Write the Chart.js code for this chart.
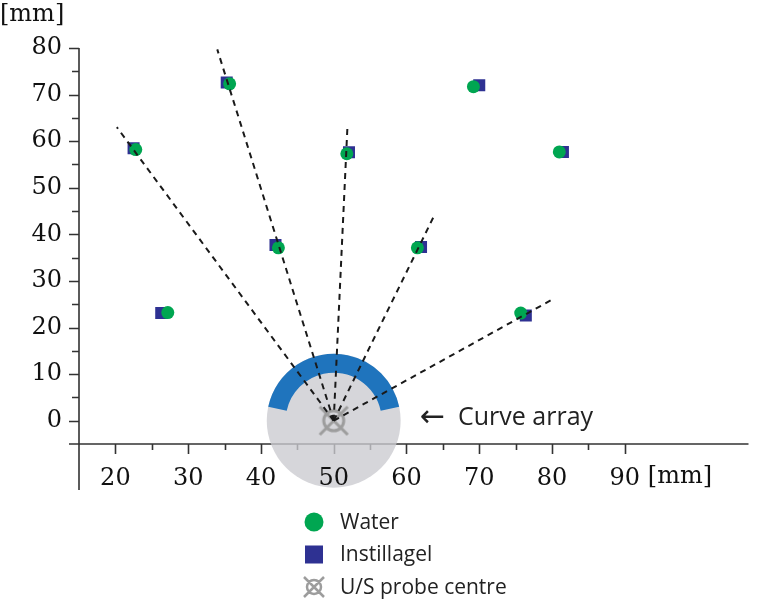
<!DOCTYPE html>
<html>
<head>
<meta charset="utf-8">
<script src="https://cdn.jsdelivr.net/npm/chart.js@4.4.0/dist/chart.umd.min.js"></script>
<style>
    html, body { margin: 0; padding: 0; background: #fff; }
</style>
</head>
<body>
<canvas id="grafico" width="757" height="600"></canvas>
<script>
// valores [x mm, y mm]
const water = [
    [35.7, 72.3], [22.8, 58.2], [42.4, 37.1], [51.8, 57.3], [27.2, 23.2],
    [61.5, 37.1], [69.2, 71.7], [81.0, 57.7], [75.7, 23.1]
];
const instillagel = [
    [35.3, 72.6], [22.5, 58.5], [42.0, 37.7], [52.1, 57.6], [26.3, 23.1],
    [62.0, 37.3], [70.0, 72.0], [81.5, 57.7], [76.4, 22.6]
];
const probeCentre = [50, 0];
const rayEnds = [[20.2, 63.0], [34.0, 79.7], [51.9, 63.5], [63.8, 44.0], [79.9, 25.9]];

const xTicks = [20, 30, 40, 50, 60, 70, 80, 90];
const xMinorTicks = [25, 35, 45, 55, 65, 75, 85];
const yTicks = [0, 10, 20, 30, 40, 50, 60, 70, 80];
const yMinorTicks = [5, 15, 25, 35, 45, 55, 65, 75];

const serif = '"DejaVu Serif", "Liberation Serif", serif';
const sans = '"Open Sans", "DejaVu Sans", sans-serif';
const cinzaSimbolo = '#9d9d9d';

function paraPontos(lista) {
    return lista.map(([x, y]) => ({ x, y }));
}

function desenhaSimbolo(ctx, x, y, raio, braco, largura) {
    ctx.save();
    ctx.strokeStyle = cinzaSimbolo;
    ctx.lineWidth = largura;
    ctx.beginPath();
    ctx.arc(x, y, raio, 0, Math.PI * 2);
    ctx.moveTo(x - braco, y - braco);
    ctx.lineTo(x + braco, y + braco);
    ctx.moveTo(x + braco, y - braco);
    ctx.lineTo(x - braco, y + braco);
    ctx.stroke();
    ctx.restore();
}

// simbolo do centro da sonda como imagem para o pointStyle
const imagemSonda = document.createElement('canvas');
imagemSonda.width = 34;
imagemSonda.height = 34;
desenhaSimbolo(imagemSonda.getContext('2d'), 17, 17, 10, 14, 3);

const raios = rayEnds.map(([x, y]) => ({
    type: 'scatter',
    data: paraPontos([probeCentre, [x, y]]),
    showLine: true,
    borderColor: '#1a1a1a',
    borderWidth: 2,
    borderDash: [6, 5],
    pointRadius: 0,
    order: 0
}));

const fundo = {
    id: 'fundo',
    beforeDraw(chart) {
        const { ctx, scales: { x, y } } = chart;
        const x0 = x.left;
        const y0 = y.bottom;
        ctx.save();
        ctx.strokeStyle = '#333';
        ctx.lineWidth = 1.6;
        ctx.beginPath();
        ctx.moveTo(x0, y.top);
        ctx.lineTo(x0, y0 + 46);
        ctx.moveTo(x0 - 10, y0);
        ctx.lineTo(x.right, y0);
        yTicks.forEach(v => {
            const p = Math.round(y.getPixelForValue(v)) + 0.5;
            ctx.moveTo(x0 - 10, p);
            ctx.lineTo(x0, p);
        });
        yMinorTicks.forEach(v => {
            const p = Math.round(y.getPixelForValue(v)) + 0.5;
            ctx.moveTo(x0 - 7, p);
            ctx.lineTo(x0, p);
        });
        xTicks.forEach(v => {
            const p = Math.round(x.getPixelForValue(v)) + 0.5;
            ctx.moveTo(p, y0);
            ctx.lineTo(p, y0 + 10);
        });
        xMinorTicks.forEach(v => {
            const p = Math.round(x.getPixelForValue(v)) + 0.5;
            ctx.moveTo(p, y0);
            ctx.lineTo(p, y0 + 6);
        });
        ctx.stroke();

        // disco da sonda e arco curvo
        const cx = x.getPixelForValue(probeCentre[0]);
        const cy = y.getPixelForValue(probeCentre[1]);
        const r = x.getPixelForValue(probeCentre[0] + 9.2) - cx;
        const rInterno = x.getPixelForValue(probeCentre[0] + 6.6) - cx;
        ctx.fillStyle = 'rgba(203, 203, 207, 0.78)';
        ctx.beginPath();
        ctx.arc(cx, cy, r, 0, Math.PI * 2);
        ctx.fill();
        const a = 12 * Math.PI / 180;
        ctx.fillStyle = '#1f74bd';
        ctx.beginPath();
        ctx.arc(cx, cy, r, Math.PI + a, Math.PI * 2 - a);
        ctx.arc(cx, cy, rInterno, Math.PI * 2 - a, Math.PI + a, true);
        ctx.closePath();
        ctx.fill();
        ctx.restore();
    },
    afterDraw(chart) {
        const { ctx, scales: { x, y } } = chart;
        ctx.save();
        ctx.fillStyle = '#111';
        ctx.font = '24px ' + serif;
        ctx.textBaseline = 'alphabetic';
        ctx.textAlign = 'left';
        ctx.fillText('[mm]', 0, 21);
        ctx.fillText('[mm]', x.getPixelForValue(90) + 23, y.bottom + 39);

        ctx.fillStyle = '#222';
        const yArray = y.getPixelForValue(probeCentre[1]) + 4;
        ctx.font = '30px "DejaVu Sans", sans-serif';
        ctx.fillText('←', 420, yArray + 1);
        ctx.font = '25px ' + sans;
        ctx.fillText('Curve array', 458, yArray);

        // legenda
        const itens = chart.data.datasets.filter(d => d.legenda);
        ctx.font = '21px ' + sans;
        ctx.textBaseline = 'middle';
        itens.forEach((d, i) => {
            const ly = 522 + i * 32.5;
            const lx = 314;
            if (d.pointStyle === 'circle') {
                ctx.fillStyle = d.backgroundColor;
                ctx.beginPath();
                ctx.arc(lx, ly, 9.5, 0, Math.PI * 2);
                ctx.fill();
            } else if (d.pointStyle === 'rect') {
                ctx.fillStyle = d.backgroundColor;
                ctx.fillRect(lx - 9, ly - 9, 18, 18);
            } else {
                desenhaSimbolo(ctx, lx, ly, 7, 10, 2.5);
            }
            ctx.fillStyle = '#222';
            ctx.fillText(d.label, 340, ly + 1);
        });
        ctx.restore();
    }
};

const ctx = document.getElementById('grafico');

new Chart(ctx, {
    type: 'scatter',
    data: {
        datasets: [
            ...raios,
            {
                label: 'Water',
                legenda: true,
                data: paraPontos(water),
                pointStyle: 'circle',
                pointRadius: 6.5,
                backgroundColor: '#00a651',
                borderWidth: 0,
                order: 1
            },
            {
                label: 'Instillagel',
                legenda: true,
                data: paraPontos(instillagel),
                pointStyle: 'rect',
                pointRadius: 8.5,
                backgroundColor: '#2e3192',
                borderWidth: 0,
                order: 2
            },
            {
                label: 'U/S probe centre',
                legenda: true,
                data: paraPontos([probeCentre]),
                pointStyle: imagemSonda,
                order: 3
            }
        ]
    },
    options: {
        responsive: false,
        animation: false,
        layout: { padding: { top: 48, left: 0, right: 0, bottom: 0 } },
        plugins: {
            legend: { display: false },
            tooltip: { enabled: false }
        },
        scales: {
            x: {
                type: 'linear',
                min: 15,
                max: 107,
                grid: { display: false, drawTicks: false },
                border: { display: false },
                ticks: {
                    padding: 20,
                    color: '#111',
                    font: { family: serif, size: 24 },
                    maxRotation: 0,
                    autoSkip: false
                },
                afterBuildTicks: s => { s.ticks = xTicks.map(v => ({ value: v })); },
                afterFit: s => { s.height = 156; }
            },
            y: {
                type: 'linear',
                min: -5,
                max: 80,
                grid: { display: false, drawTicks: false },
                border: { display: false },
                ticks: {
                    padding: 17,
                    color: '#111',
                    font: { family: serif, size: 24 },
                    autoSkip: false
                },
                afterBuildTicks: s => { s.ticks = yTicks.map(v => ({ value: v })); },
                afterFit: s => { s.width = 79; }
            }
        }
    },
    plugins: [fundo]
});
</script>
</body>
</html>
